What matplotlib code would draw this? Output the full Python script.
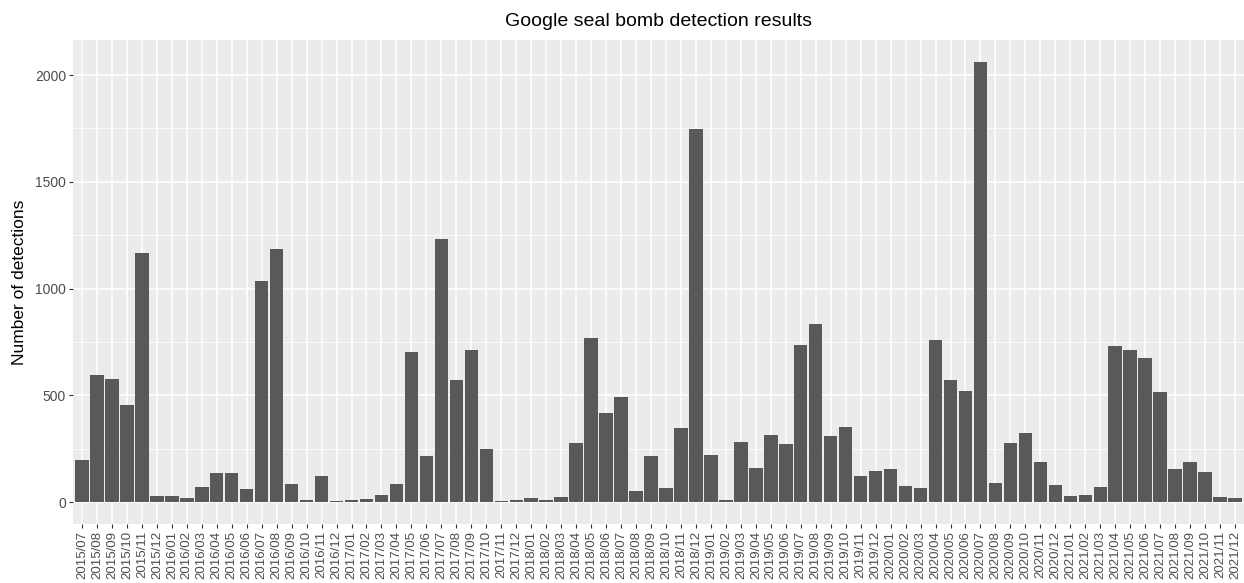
import matplotlib
matplotlib.use('Agg')
import matplotlib.pyplot as plt
import numpy as np

# monthly labels 2015/07 .. 2021/12
months = []
for yr in range(2015, 2022):
    for mo in range(1, 13):
        if yr == 2015 and mo < 7:
            continue
        months.append('%d/%02d' % (yr, mo))

# detections per month
detections_2015 = [195, 597, 575, 456, 1167, 30]
detections_2016 = [28, 20, 72, 137, 137, 62, 1034, 1186, 84, 11, 123, 5]
detections_2017 = [8, 12, 31, 86, 703, 214, 1233, 570, 711, 248, 5, 11]
detections_2018 = [17, 9, 23, 277, 767, 417, 494, 52, 214, 67, 348, 1745]
detections_2019 = [220, 9, 280, 161, 316, 272, 737, 833, 308, 352, 122, 147]
detections_2020 = [156, 73, 67, 761, 573, 520, 2061, 89, 275, 325, 187, 78]
detections_2021 = [28, 34, 69, 731, 714, 675, 516, 153, 186, 141, 25, 17]

counts = (detections_2015 + detections_2016 + detections_2017 + detections_2018
          + detections_2019 + detections_2020 + detections_2021)

plt.rcParams['font.family'] = ['Liberation Sans', 'DejaVu Sans']

fig = plt.figure(figsize=(12.44, 5.83), dpi=100)
ax = fig.add_axes([73 / 1244, 1 - 524 / 583, 1 - 73 / 1244, (524 - 40) / 583])

x = np.arange(len(counts))
ax.set_facecolor('#EBEBEB')
ax.bar(x, counts, width=0.9, color='#595959', zorder=3)

ymax = max(counts)
ax.set_ylim(-0.05 * ymax, 1.05 * ymax)
ax.set_xlim(-0.6, len(counts) - 0.4)

ax.set_yticks([0, 500, 1000, 1500, 2000])
ax.set_yticks([250, 750, 1250, 1750], minor=True)
ax.set_xticks(x)
ax.set_xticklabels(months, rotation=90, fontsize=9.5, color='#4D4D4D')
ax.tick_params(axis='y', labelsize=10, labelcolor='#4D4D4D')
ax.tick_params(axis='both', which='major', length=3, width=0.8, color='#333333', pad=2)
ax.tick_params(axis='y', which='minor', length=0)

ax.grid(True, which='major', color='white', linewidth=1.1, zorder=1)
ax.grid(True, which='minor', axis='y', color='white', linewidth=0.55, zorder=1)
ax.set_axisbelow(True)
for s in ax.spines.values():
    s.set_visible(False)

ax.set_ylabel('Number of detections', fontsize=12.5, labelpad=6)
fig.text((73 + 1244) / 2 / 1244, 1 - 22 / 583, 'Google seal bomb detection results',
         ha='center', va='center', fontsize=14)

fig.savefig('out.png', dpi=100)
